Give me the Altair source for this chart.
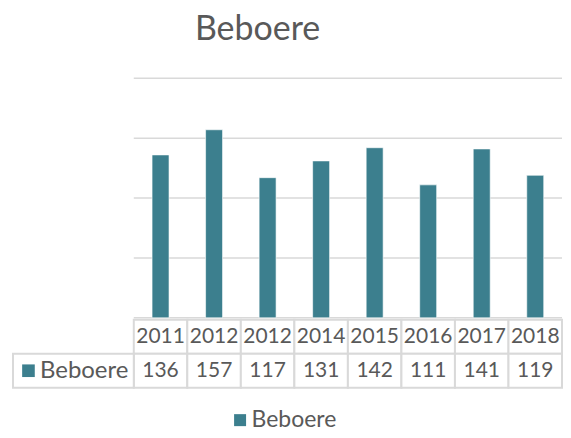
import altair as alt
import pandas as pd

# ---- data ----
years = ["2011", "2012", "2012", "2014", "2015", "2016", "2017", "2018"]
values = [136, 157, 117, 131, 142, 111, 141, 119]
series_name = "Beboere"
grid_values = [0, 50, 100, 150, 200]

BAR = "#3c7f8e"
TXT = "#595959"
GRID = "#d9d9d9"
FONT = "Lato"

n = len(years)
PLOT_W = 550.0
LEFT_W = 121.0
CAT_W = (PLOT_W - LEFT_W) / n
LEFT_U = LEFT_W / CAT_W

df = pd.DataFrame({"idx": list(range(n)), "year": years, "value": values,
                   "series": [series_name] * n})
grid_df = pd.DataFrame({"v": grid_values})

table_rows = []
for i in range(n):
    table_rows.append({"row": "year", "idx": i, "label": years[i]})
    table_rows.append({"row": "val", "idx": i, "label": str(values[i])})
table_df = pd.DataFrame(table_rows)
legend_cell_df = pd.DataFrame({"row": ["val"], "label": [series_name]})

xscale = alt.Scale(domain=[-LEFT_U, n], nice=False, zero=False, padding=0)
yscale = alt.Scale(domain=[0, 200], nice=False)

# ---- top: bars ----
grid = alt.Chart(grid_df).mark_rule(color=GRID, strokeWidth=1.5).encode(
    x=alt.datum(0, scale=xscale, axis=None),
    x2=alt.datum(n),
    y=alt.Y("v:Q", scale=yscale, axis=None),
)

bars = alt.Chart(df).transform_calculate(xc="datum.idx + 0.5").mark_bar(
    size=17, stroke="#ffffff", strokeWidth=0.6
).encode(
    x=alt.X("xc:Q", scale=xscale, axis=None),
    y=alt.Y("value:Q", scale=yscale, axis=None),
    color=alt.Color(
        "series:N",
        scale=alt.Scale(range=[BAR]),
        legend=alt.Legend(
            title=None, orient="none", legendX=216, legendY=331,
            symbolType="square", symbolSize=144, symbolStrokeWidth=0,
            labelFontSize=23, labelFont=FONT, labelColor=TXT, padding=0,
            labelOffset=0,
        ),
    ),
)

top = alt.layer(grid, bars).properties(width=PLOT_W, height=240)

# ---- bottom: data table ----
tyscale = alt.Scale(domain=["year", "val"], paddingInner=0, paddingOuter=0)

cells = alt.Chart(table_df).transform_calculate(x1="datum.idx + 1").mark_rect(
    fill="#ffffff", stroke=GRID, strokeWidth=2
).encode(
    x=alt.X("idx:Q", scale=xscale, axis=None),
    x2="x1:Q",
    y=alt.Y("row:N", scale=tyscale, axis=None),
)

legend_cell = alt.Chart(legend_cell_df).mark_rect(
    fill="#ffffff", stroke=GRID, strokeWidth=2
).encode(
    x=alt.datum(-LEFT_U, scale=xscale, axis=None),
    x2=alt.datum(0),
    y=alt.Y("row:N", scale=tyscale, axis=None),
)

cell_text = alt.Chart(table_df).transform_calculate(xc="datum.idx + 0.5").mark_text(
    fontSize=21, font=FONT, color=TXT
).encode(
    x=alt.X("xc:Q", scale=xscale, axis=None),
    y=alt.Y("row:N", scale=tyscale, axis=None),
    text="label:N",
)

legend_sq = alt.Chart(legend_cell_df).mark_square(size=160, color=BAR, opacity=1).encode(
    x=alt.value(15.5),
    y=alt.Y("row:N", scale=tyscale, axis=None),
)

legend_txt = alt.Chart(legend_cell_df).mark_text(
    fontSize=24, font=FONT, color=TXT, align="left"
).encode(
    x=alt.value(27),
    y=alt.Y("row:N", scale=tyscale, axis=None),
    text="label:N",
)

bottom = alt.layer(cells, legend_cell, cell_text, legend_sq, legend_txt).properties(
    width=PLOT_W, height=68
)

chart = alt.vconcat(top, bottom, spacing=0).resolve_scale(
    x="independent", y="independent"
).properties(
    title=alt.TitleParams(
        "Beboere", fontSize=34, font=FONT, color=TXT, fontWeight="normal",
        anchor="middle", dx=-30, offset=31,
    ),
    padding={"left": 4, "top": 4, "right": 0, "bottom": 0},
).configure_view(stroke=None)

chart.save("out.html", embed_options={"renderer": "svg", "actions": False})
